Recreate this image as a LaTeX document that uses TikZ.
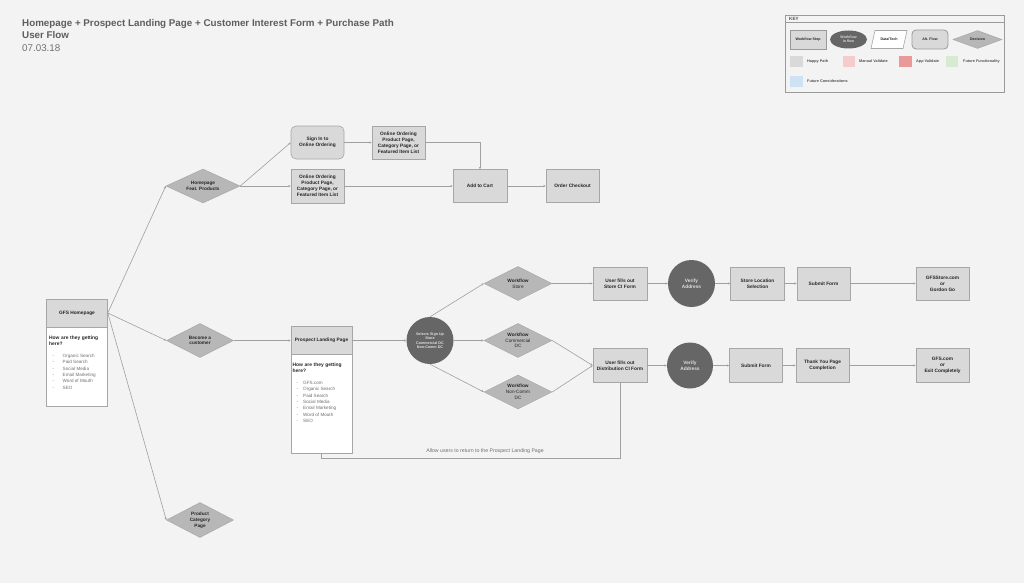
\documentclass[tikz,border=0pt]{standalone}
\usepackage{fontspec}
\setmainfont{Liberation Sans}
\usetikzlibrary{shapes.geometric,arrows.meta}
\definecolor{bg}{HTML}{F3F3F3}
\definecolor{boxfill}{HTML}{D9D9D9}
\definecolor{boxline}{HTML}{A6A6A6}
\definecolor{diafill}{HTML}{B7B7B7}
\definecolor{dialine}{HTML}{A8A8A8}
\definecolor{circ}{HTML}{666666}
\definecolor{lineC}{HTML}{A0A0A0}
\definecolor{txt}{HTML}{262626}
\definecolor{listC}{HTML}{707070}
\definecolor{titleC}{HTML}{5E5E5E}
\definecolor{dateC}{HTML}{707070}
\definecolor{keyline}{HTML}{9A9A9A}
\definecolor{happy}{HTML}{D9D9D9}
\definecolor{manual}{HTML}{F4CCCC}
\definecolor{appval}{HTML}{EA9999}
\definecolor{futfun}{HTML}{D9EAD3}
\definecolor{futcon}{HTML}{CFE2F3}
\newcommand\myfs[2]{\fontsize{#1}{#2}\selectfont}
\tikzset{
  sz/.style 2 args={minimum width=#1pt, minimum height=#2pt},
  stepbox/.style={rectangle, draw=boxline, fill=boxfill, line width=0.6pt, inner sep=0pt, align=center, font=\bfseries\myfs{4.8}{6}, text=txt},
  altbox/.style={stepbox, rounded corners=5pt},
  bodybox/.style={rectangle, draw=boxline, fill=white, line width=0.6pt, inner sep=0pt},
  decision/.style={diamond, draw=dialine, fill=diafill, line width=0.5pt, inner sep=0pt, aspect=2, align=center, font=\myfs{4.7}{5.8}, text=txt},
  wcircle/.style={circle, fill=circ, draw=none, inner sep=0pt, align=center, text=white!88!black, font=\bfseries\myfs{4.8}{6}},
  conn/.style={draw=lineC, line width=0.6pt, -{Stealth[length=2.4pt,width=2.2pt]}},
  retline/.style={draw=lineC, line width=0.8pt},
  plain/.style={inner sep=0pt, text=txt},
  keytxt/.style={inner sep=0pt, anchor=west, text=txt!80!white, font=\bfseries\myfs{3.8}{4.5}},
  swatch/.style={rectangle, inner sep=0pt, minimum width=12.5pt, minimum height=11pt}
}
\begin{document}
\begin{tikzpicture}[x=1pt,y=-1pt]
\path[fill=bg] (0,0) rectangle (1024,583);
\useasboundingbox (0,0) rectangle (1024,583);

% Title
\node[plain, anchor=base west, font=\bfseries\myfs{9.8}{12}, text=titleC] (title) at (22,27) {Homepage + Prospect Landing Page + Customer Interest Form + Purchase Path};
\node[plain, anchor=base west, font=\bfseries\myfs{9.8}{12}, text=titleC] (sub) at (22,38.7) {User Flow};
\node[plain, anchor=base west, font=\myfs{9.8}{12}, text=dateC] (date) at (22,51.3) {07.03.18};

% Key
\node[rectangle, draw=keyline, fill=bg, line width=0.6pt, inner sep=0pt, sz={219}{77}] (keybox) at (894.5,53.5) {};
\draw[keyline, line width=0.6pt] (keybox.north west) ++(0,8) -- ++(219,0);
\node[keytxt, font=\bfseries\myfs{4.6}{5}] (keyt) at (789,19) {KEY};
\node[stepbox, sz={36}{19}, draw=keyline, line width=0.8pt, font=\bfseries\myfs{3.6}{4.3}] (k1) at (808,39.5) {Workflow Step};
\node[ellipse, fill=circ, inner sep=0pt, sz={37}{18}, align=center, text=white!85!black, font=\bfseries\myfs{3.6}{4.3}] (k2) at (848.5,39.5) {Workflow\\in flow};
\draw[fill=white, draw=boxline, line width=0.6pt] (875,30.5) -- (907,30.5) -- (903,48.5) -- (871,48.5) -- cycle;
\node[plain, font=\bfseries\myfs{3.6}{4.3}] (k3) at (889,39.5) {Data/Tech};
\node[altbox, sz={36}{19}, draw=keyline, line width=0.8pt, rounded corners=4pt, font=\bfseries\myfs{3.6}{4.3}] (k4) at (930,39.5) {Alt. Flow};
\node[decision, sz={49}{18}, font=\bfseries\myfs{3.6}{4.3}] (k5) at (977.5,39.5) {Decision};
\node[swatch, fill=happy] (s1) at (796.5,61.5) {};
\node[keytxt] (s1t) at (807,61.5) {Happy Path};
\node[swatch, fill=manual] (s2) at (849,61.5) {};
\node[keytxt] (s2t) at (859,61.5) {Manual Validate};
\node[swatch, fill=appval] (s3) at (905.5,61.5) {};
\node[keytxt] (s3t) at (916,61.5) {App Validate};
\node[swatch, fill=futfun] (s4) at (952,61.5) {};
\node[keytxt] (s4t) at (963,61.5) {Future Functionality};
\node[swatch, fill=futcon] (s5) at (796.5,81.5) {};
\node[keytxt] (s5t) at (807,81.5) {Future Considerations};

% GFS Homepage
\node[bodybox, sz={61}{107}] (gfsbody) at (77,352.5) {};
\node[stepbox, sz={61}{28}] (gfs) at (77,313) {GFS Homepage};
\node[plain, anchor=north west, text width=56pt, align=left, font=\bfseries\myfs{4.9}{6}] (gfsq) at (49,335.5) {How are they getting here?};
\node[plain, anchor=north west, font=\myfs{4.6}{6.3}, text=listC] (gfsl) at (52.5,353) {\begin{tabular}{@{}l@{\hspace{8.5pt}}l@{}}
-&Organic Search\\ -&Paid Search\\ -&Social Media\\ -&Email Marketing\\ -&Word of Mouth\\ -&SEO\end{tabular}};

% Decisions from homepage
\node[decision, sz={74}{34}] (feat) at (203,186) {\textbf{Homepage}\\\textbf{Feat. Products}};
\node[decision, sz={67}{34}] (become) at (200,340.5) {\textbf{Become a}\\\textbf{customer}};
\node[decision, sz={67}{35}] (prodcat) at (200,520) {\textbf{Product}\\\textbf{Category}\\\textbf{Page}};

% Top flow
\node[altbox, sz={53}{33}] (signin) at (317.5,142.5) {Sign In to\\Online Ordering};
\node[stepbox, sz={53}{33}] (oo1) at (398.5,142.5) {Online Ordering\\Product Page,\\Category Page, or\\Featured Item List};
\node[stepbox, sz={53}{34}] (oo2) at (317.5,186) {Online Ordering\\Product Page,\\Category Page, or\\Featured Item List};
\node[stepbox, sz={54}{33}] (cart) at (480,186) {Add to Cart};
\node[stepbox, sz={53}{33}] (checkout) at (572.5,186) {Order Checkout};

% Prospect landing page
\node[bodybox, sz={61}{127}] (plpbody) at (321.5,389.5) {};
\node[stepbox, sz={61}{28}] (plph) at (321.5,340.5) {Prospect Landing Page};
\node[plain, anchor=north west, text width=56pt, align=left, font=\bfseries\myfs{4.9}{6}] (plpq) at (292.5,362.5) {How are they getting here?};
\node[plain, anchor=north west, font=\myfs{4.6}{6.3}, text=listC] (plpl) at (296.5,380) {\begin{tabular}{@{}l@{\hspace{5pt}}l@{}}
-&GFS.com\\ -&Organic Search\\ -&Paid Search\\ -&Social Media\\ -&Email Marketing\\ -&Word of Mouth\\ -&SEO\end{tabular}};

% Selection circle and workflows
\node[wcircle, minimum size=47pt, font=\bfseries\myfs{3.7}{4.4}] (sel) at (430,340.5) {Selects Sign Up\\Store\\Commercial DC\\Non-Comm DC};
\node[decision, sz={68}{34}] (wfs) at (518,283.5) {\textbf{Workflow}\\Store};
\node[decision, sz={68}{34}] (wfc) at (518,340.5) {\textbf{Workflow}\\Commercial\\DC};
\node[decision, sz={68}{34}] (wfn) at (518,392) {\textbf{Workflow}\\Non-Comm\\DC};

% Store row
\node[stepbox, sz={54}{33}] (storeci) at (620,283.5) {User fills out\\Store CI Form};
\node[wcircle, minimum size=47pt] (va1) at (691.5,283.5) {Verify\\Address};
\node[stepbox, sz={54}{33}] (storeloc) at (757.5,283.5) {Store Location\\Selection};
\node[stepbox, sz={53}{33}] (submit1) at (823.5,283.5) {Submit Form};
\node[stepbox, sz={53}{33}] (gfsstore) at (942.5,283.5) {GFSStore.com\\or\\Gordon Go};

% Distribution row
\node[stepbox, sz={54}{34}] (distci) at (620,365.5) {User fills out\\Distribution CI Form};
\node[wcircle, minimum size=46pt] (va2) at (690,365.5) {Verify\\Address};
\node[stepbox, sz={53}{34}] (submit2) at (756,365.5) {Submit Form};
\node[stepbox, sz={53}{34}] (thanks) at (822.5,365.5) {Thank You Page\\Completion};
\node[stepbox, sz={53}{34}] (gfscom) at (942.5,365.5) {GFS.com\\or\\Exit Completely};

% Connectors
\draw[conn] (gfs.east) -- (feat.west);
\draw[conn] (gfs.east) -- (become.west);
\draw[conn] (gfs.east) -- (prodcat.west);
\draw[conn] (feat.east) -- (signin.west);
\draw[conn] (feat.east) -- (oo2.west);
\draw[conn] (signin.east) -- (oo1.west);
\draw[conn] (oo1.east) -| (cart.north);
\draw[conn] (oo2.east) -- (cart.west);
\draw[conn] (cart.east) -- (checkout.west);
\draw[conn] (become.east) -- (plph.west);
\draw[conn] (plph.east) -- (sel.west);
\draw[conn] (sel.north) -- (wfs.west);
\draw[conn] (sel.east) -- (wfc.west);
\draw[conn] (sel.south) -- (wfn.west);
\draw[conn] (wfs.east) -- (storeci.west);
\draw[conn] (storeci.east) -- (va1.west);
\draw[conn] (va1.east) -- (storeloc.west);
\draw[conn] (storeloc.east) -- (submit1.west);
\draw[conn] (submit1.east) -- (gfsstore.west);
\draw[conn] (wfc.east) -- (distci.west);
\draw[conn] (wfn.east) -- (distci.west);
\draw[conn] (distci.east) -- (va2.west);
\draw[conn] (va2.east) -- (submit2.west);
\draw[conn] (submit2.east) -- (thanks.west);
\draw[conn] (thanks.east) -- (gfscom.west);
\draw[retline] (distci.south) -- ++(0,75.5) coordinate (ret) -| (plpbody.south);
\node[plain, font=\myfs{5.2}{6}, text=listC] (retl) at (485,451) {Allow users to return to the Prospect Landing Page};
\end{tikzpicture}
\end{document}
